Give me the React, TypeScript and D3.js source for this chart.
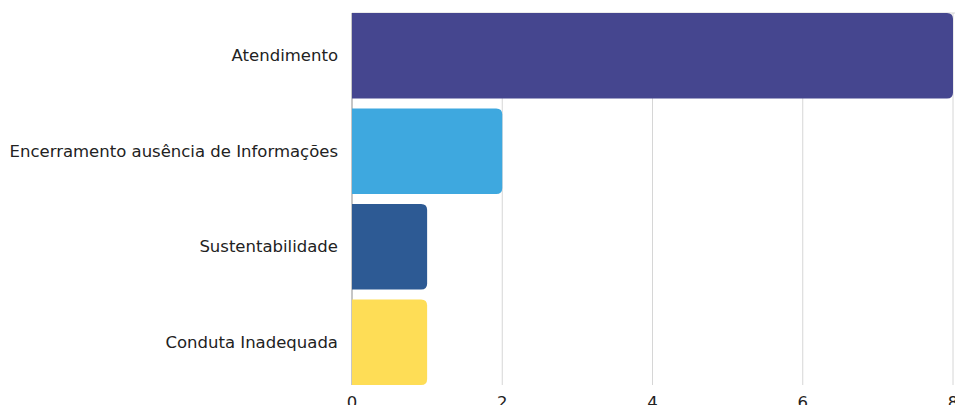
import React from "react";
import * as d3 from "d3";

const categories = ["Atendimento", "Encerramento ausência de Informações", "Sustentabilidade", "Conduta Inadequada"];
const values = [8, 2, 1, 1];
const colors = ["#45468f", "#3ea8df", "#2d5a94", "#fedd56"];
const xTicks = [0, 2, 4, 6, 8];

const W = 955, H = 405;
const M = { left: 352, right: 2, top: 13, bottom: 20 };

function barPath(x0: number, x1: number, y0: number, h: number, r: number) {
  const rr = Math.min(r, (x1 - x0) / 2, h / 2);
  return `M${x0},${y0}H${x1 - rr}Q${x1},${y0} ${x1},${y0 + rr}V${y0 + h - rr}Q${x1},${y0 + h} ${x1 - rr},${y0 + h}H${x0}Z`;
}

export default function App() {
  const x = d3.scaleLinear().domain([0, 8]).range([M.left, W - M.right]);
  const y = d3.scaleBand().domain(categories).range([M.top, H - M.bottom]).paddingInner(0.105).paddingOuter(0.0);
  const font = "'DejaVu Sans', sans-serif";
  return (
    <svg width={W} height={H} style={{ position: "absolute", left: 0, top: 0 }}>
      {xTicks.map((t) => (
        <line key={t} x1={x(t)} x2={x(t)} y1={M.top} y2={H - M.bottom} stroke="#d6d6d6" strokeWidth={1} />
      ))}
      <line x1={x(0)} x2={x(0)} y1={M.top} y2={H - M.bottom} stroke="#a0a0a0" strokeWidth={1} />
      <line x1={x(0)} x2={W} y1={M.top} y2={M.top} stroke="#d6d6d6" strokeWidth={1} />
      {categories.map((c, i) => (
        <path key={c} d={barPath(x(0), x(values[i]), y(c)!, y.bandwidth(), 6)} fill={colors[i]} />
      ))}
      {categories.map((c) => (
        <text key={c} x={x(0) - 14} y={y(c)! + y.bandwidth() / 2} textAnchor="end" dominantBaseline="central" fontFamily={font} fontSize={16.5} fill="#222">
          {c}
        </text>
      ))}
      {xTicks.map((t) => (
        <text key={t} x={x(t)} y={H + 3} textAnchor="middle" fontFamily={font} fontSize={16.5} fill="#222">
          {t}
        </text>
      ))}
    </svg>
  );
}
